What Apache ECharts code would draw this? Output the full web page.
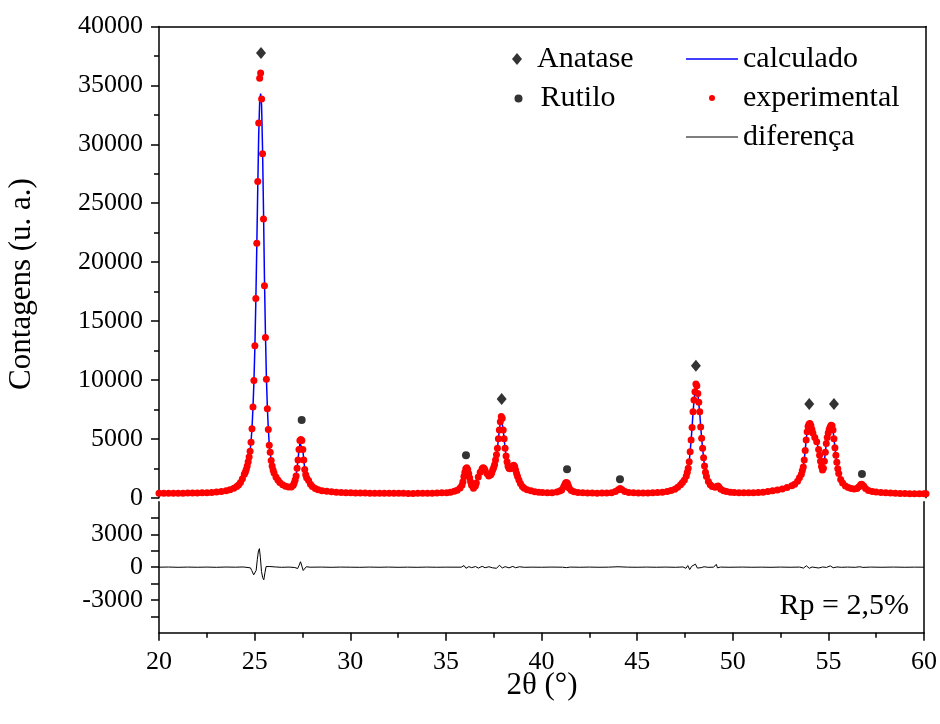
<!DOCTYPE html>
<html>
<head>
<meta charset="utf-8">
<script src="https://cdn.jsdelivr.net/npm/echarts@6/dist/echarts.min.js"></script>
<style>
html,body{margin:0;padding:0;background:#fff;}
#chart{width:940px;height:724px;}
</style>
</head>
<body>
<div id="chart"></div>
<script>
// ---------- DATA ----------
const xTicks = [20, 25, 30, 35, 40, 45, 50, 55, 60];
const yTopTicks = [0, 5000, 10000, 15000, 20000, 25000, 30000, 35000, 40000];
const yDiffLabels = [-3000, 0, 3000];
const yDiffTicks = [-4500, -3000, -1500, 0, 1500, 3000, 4500];

// [2θ, contagens] experimental points
const experimental = [
[20.0,370],[20.25,375],[20.5,372],[20.75,378],[21.0,380],[21.25,385],[21.5,390],[21.75,398],[22.0,405],[22.25,415],
[22.5,430],[22.75,450],[23.0,480],[23.25,520],[23.5,590],[23.7,680],[23.9,800],[24.05,950],[24.15,1080],[24.25,1300],
[24.35,1600],[24.45,2000],[24.5,2150],[24.55,2400],[24.6,2700],[24.65,3050],[24.7,3450],[24.75,3950],[24.8,4700],[24.85,5850],
[24.9,7700],[24.95,9950],[25.0,12900],[25.05,16900],[25.1,21600],[25.15,26850],[25.2,31800],[25.25,35600],[25.3,36050],[25.35,33850],
[25.4,29200],[25.45,23650],[25.5,18000],[25.55,13600],[25.6,10050],[25.65,7550],[25.7,5800],[25.75,4450],[25.8,3850],[25.85,3150],
[25.9,2700],[25.95,2350],[26.0,2100],[26.1,1750],[26.2,1500],[26.3,1280],[26.45,1100],[26.6,980],[26.75,900],[26.9,900],
[27.0,1050],[27.05,1250],[27.1,1500],[27.15,1850],[27.2,2500],[27.25,3200],[27.3,4100],[27.35,4850],[27.4,4950],[27.45,4850],
[27.5,4100],[27.55,3200],[27.6,2400],[27.65,1950],[27.7,1700],[27.8,1450],[27.9,1150],[28.0,950],[28.15,780],[28.3,680],
[28.5,600],[28.75,540],[29.0,500],[29.25,470],[29.5,450],[29.75,430],[30.0,415],[30.25,405],[30.5,398],[30.75,392],
[31.0,388],[31.25,384],[31.5,380],[31.75,377],[32.0,375],[32.25,372],[32.5,370],[32.75,368],[33.0,366],[33.25,366],
[33.5,368],[33.75,372],[34.0,378],[34.25,385],[34.5,395],[34.75,410],[35.0,430],[35.2,470],[35.4,540],[35.55,640],
[35.7,820],[35.8,1050],[35.85,1350],[35.9,1800],[35.95,2150],[36.0,2450],[36.05,2550],[36.1,2400],[36.15,2050],[36.2,1700],
[36.25,1350],[36.3,1050],[36.4,800],[36.5,1000],[36.55,1250],[36.65,1750],[36.75,2150],[36.85,2450],[36.9,2550],[36.95,2500],
[37.0,2350],[37.1,2050],[37.2,1850],[37.3,1950],[37.35,2100],[37.4,2350],[37.45,2550],[37.5,2800],[37.55,3200],[37.6,3650],
[37.65,4200],[37.7,5000],[37.75,5750],[37.8,6450],[37.85,6900],[37.9,6750],[37.95,5750],[38.0,5000],[38.05,4200],[38.1,3550],
[38.15,3050],[38.2,2700],[38.25,2500],[38.3,2450],[38.35,2500],[38.4,2600],[38.45,2700],[38.5,2750],[38.55,2650],[38.6,2350],
[38.65,2050],[38.7,1800],[38.77,1500],[38.85,1200],[38.95,950],[39.05,800],[39.2,680],[39.4,580],[39.6,510],[39.8,470],
[40.0,440],[40.25,420],[40.5,430],[40.75,480],[40.9,560],[41.0,660],[41.1,900],[41.15,1080],[41.2,1250],[41.25,1300],
[41.3,1220],[41.35,1000],[41.4,800],[41.5,620],[41.65,500],[41.85,440],[42.1,410],[42.35,395],[42.6,390],[42.85,385],
[43.1,390],[43.35,400],[43.6,430],[43.8,520],[43.95,680],[44.05,780],[44.15,680],[44.3,520],[44.5,440],[44.75,410],
[45.0,400],[45.25,400],[45.5,405],[45.75,420],[46.0,440],[46.25,470],[46.5,530],[46.7,610],[46.9,720],[47.05,880],
[47.2,1100],[47.3,1300],[47.4,1500],[47.5,1850],[47.55,2150],[47.6,2500],[47.65,3050],[47.7,3900],[47.75,4900],[47.8,5950],
[47.85,7300],[47.9,8300],[47.95,9000],[48.0,9650],[48.05,9500],[48.1,8850],[48.15,8100],[48.2,7300],[48.25,6000],[48.3,5050],
[48.35,4200],[48.4,3400],[48.45,2700],[48.5,2150],[48.55,1800],[48.65,1380],[48.75,1100],[48.85,950],[49.0,880],[49.1,960],
[49.15,1000],[49.2,900],[49.3,720],[49.45,600],[49.6,520],[49.8,470],[50.0,440],[50.25,420],[50.5,410],[50.75,410],
[51.0,420],[51.25,440],[51.5,470],[51.75,520],[52.0,580],[52.25,650],[52.5,740],[52.75,860],[53.0,1020],[53.15,1150],
[53.3,1400],[53.4,1700],[53.5,2000],[53.55,2300],[53.6,2600],[53.65,3200],[53.7,4000],[53.75,4900],[53.8,5600],[53.85,6050],
[53.9,6250],[53.95,6300],[54.0,6100],[54.05,5800],[54.1,5500],[54.2,5100],[54.3,4750],[54.4,4100],[54.45,3600],[54.5,3100],
[54.55,2650],[54.6,2350],[54.65,2500],[54.7,3100],[54.75,3850],[54.8,4600],[54.85,5100],[54.9,5500],[54.95,5800],[55.0,6000],
[55.05,6150],[55.1,6100],[55.15,5750],[55.2,5000],[55.25,4250],[55.3,3600],[55.35,3000],[55.4,2450],[55.45,2050],[55.55,1550],
[55.65,1250],[55.8,1000],[55.95,860],[56.1,780],[56.25,730],[56.4,780],[56.5,920],[56.6,1120],[56.65,1150],[56.75,1000],
[56.85,780],[57.0,620],[57.2,530],[57.4,480],[57.65,440],[57.9,410],[58.15,390],[58.4,375],[58.65,360],[58.9,350],
[59.15,340],[59.4,335],[59.65,330],[59.9,325],[60.0,325]
];

// [2θ, contagens] calculated (Rietveld) profile
const calculated = [
[20,370],[21,380],[22,405],[22.5,430],[23,480],[23.5,590],[23.9,800],[24.15,1080],[24.35,1600],[24.5,2150],
[24.6,2700],[24.7,3450],[24.75,3950],[24.8,4750],[24.85,5900],[24.9,7600],[24.95,9800],[25.0,12800],[25.05,16700],[25.1,21300],
[25.15,26300],[25.2,30800],[25.25,33600],[25.3,34300],[25.35,33300],[25.4,29600],[25.45,24400],[25.5,18600],[25.55,14000],[25.6,10300],
[25.65,7700],[25.7,5900],[25.75,4500],[25.8,3850],[25.85,3150],[25.9,2700],[26.0,2100],[26.2,1500],[26.45,1100],[26.75,900],
[26.9,900],[27.0,1050],[27.1,1500],[27.15,1850],[27.2,2500],[27.25,3250],[27.3,4050],[27.35,4650],[27.4,4800],[27.45,4700],
[27.5,4050],[27.55,3250],[27.6,2450],[27.7,1700],[27.8,1450],[28.0,950],[28.5,600],[29,500],[30,415],[32,375],
[34,378],[35,430],[35.4,540],[35.7,820],[35.8,1050],[35.9,1750],[36.0,2400],[36.05,2500],[36.1,2400],[36.2,1700],
[36.3,1050],[36.4,820],[36.5,1000],[36.65,1750],[36.75,2150],[36.9,2500],[37.0,2350],[37.2,1850],[37.3,1950],[37.4,2350],
[37.5,2800],[37.55,3200],[37.6,3650],[37.65,4200],[37.7,5000],[37.75,5750],[37.8,6350],[37.85,6700],[37.9,6600],[37.95,5800],
[38.0,5000],[38.05,4200],[38.1,3550],[38.15,3050],[38.2,2700],[38.3,2450],[38.5,2700],[38.6,2350],[38.7,1800],[38.85,1200],
[39.05,800],[39.4,580],[40,440],[40.75,480],[41.0,660],[41.1,900],[41.2,1200],[41.25,1250],[41.3,1200],[41.4,800],
[41.65,500],[42.5,390],[43.6,430],[43.95,680],[44.05,760],[44.15,680],[44.5,440],[45.5,405],[46.5,530],[46.9,720],
[47.2,1100],[47.4,1500],[47.5,1850],[47.6,2500],[47.65,3050],[47.7,3900],[47.75,4850],[47.8,5950],[47.85,7200],[47.9,8200],
[47.95,9000],[48.0,9500],[48.05,9400],[48.1,8800],[48.15,8000],[48.2,7200],[48.25,6050],[48.3,5050],[48.35,4200],[48.4,3400],
[48.45,2700],[48.5,2150],[48.55,1800],[48.65,1380],[48.85,950],[49.0,880],[49.15,980],[49.3,720],[49.6,520],[50,440],
[51,420],[52,580],[52.5,740],[53,1020],[53.3,1400],[53.5,2000],[53.6,2600],[53.65,3200],[53.7,4000],[53.75,4900],
[53.8,5600],[53.85,6000],[53.9,6200],[53.95,6250],[54.0,6100],[54.1,5500],[54.2,5100],[54.3,4750],[54.4,4100],[54.5,3100],
[54.6,2350],[54.65,2500],[54.7,3100],[54.75,3850],[54.8,4600],[54.9,5500],[55.0,6000],[55.05,6100],[55.1,6050],[55.15,5750],
[55.2,5000],[55.3,3600],[55.4,2450],[55.55,1550],[55.8,1000],[56.1,780],[56.25,730],[56.5,920],[56.65,1130],[56.85,780],
[57.2,530],[58,400],[59,345],[60,325]
];

// [2θ, diferença]
const difference = [
[20,0],[20.5,15],[21,-10],[21.5,10],[22,-5],[22.5,10],[23,-10],[23.5,15],[24,0],[24.4,20],
[24.6,-20],[24.7,120],[24.78,-60],[24.85,-300],[24.95,-700],[25.02,-850],[25.08,-300],[25.14,700],[25.2,1500],[25.25,1700],
[25.3,900],[25.36,-400],[25.42,-950],[25.48,-1150],[25.54,-500],[25.6,60],[25.7,150],[25.8,60],[25.9,-20],[26.1,20],
[26.4,-10],[26.8,10],[27.1,-30],[27.25,-120],[27.32,150],[27.4,500],[27.47,100],[27.54,-300],[27.6,-150],[27.7,40],
[27.9,0],[28.5,10],[29,-10],[29.5,10],[30,0],[30.5,-10],[31,10],[31.5,-5],[32,10],[32.5,-10],
[33,5],[33.5,-10],[34,10],[34.5,-5],[35,5],[35.8,0],[35.95,150],[36.05,-100],[36.2,50],[36.35,-40],
[36.55,60],[36.7,-80],[36.9,80],[37.05,-50],[37.25,40],[37.45,-60],[37.65,-100],[37.8,180],[37.95,-70],[38.1,50],
[38.3,-60],[38.5,70],[38.65,-50],[38.85,40],[39.1,-10],[39.5,5],[40,-5],[40.5,10],[41.1,0],[41.2,90],
[41.3,-40],[41.5,10],[42,-5],[42.5,10],[43,-5],[43.5,5],[44.0,40],[44.1,-20],[44.5,5],[45,-5],
[45.5,10],[46,-5],[46.5,10],[47,-10],[47.4,20],[47.55,-100],[47.65,150],[47.75,-220],[47.85,80],[47.95,-60],
[48.05,280],[48.15,-80],[48.25,-220],[48.35,-40],[48.5,40],[48.7,-10],[49.0,0],[49.08,-60],[49.14,260],[49.2,-60],
[49.35,10],[49.8,-5],[50.5,10],[51,-5],[51.5,5],[52,-10],[52.5,10],[53,-5],[53.5,10],[53.7,-80],
[53.85,130],[54.0,-100],[54.15,20],[54.35,-40],[54.5,-70],[54.7,20],[54.9,-20],[55.1,120],[55.25,-50],[55.45,20],
[55.7,-10],[56.0,10],[56.4,-10],[56.65,40],[56.8,-20],[57.2,10],[57.8,-5],[58.4,10],[59,-5],[59.5,5],[60,0]
];

// reflection markers [2θ, position]
const anatasePeaks = [[25.32,37750],[37.87,8380],[48.0,11200],[53.91,7950],[55.2,7950]];
const rutilePeaks = [[27.44,6600],[36.01,3600],[41.28,2410],[44.04,1560],[56.66,2010]];

// ---------- CHART ----------
const FONT = '"Liberation Serif", "Times New Roman", serif';
const chart = echarts.init(document.getElementById('chart'), null, {renderer: 'canvas'});

const GL = 159, GR = 940 - 926;
const topGrid = {left: GL, right: GR, top: 26.5, height: 471.2};
const botGrid = {left: GL, right: GR, top: 501.7, height: 131};

const lineStyle = {color: '#000', width: 1.5};
const plain = v => String(v);

const option = {
  animation: false,
  backgroundColor: '#fff',
  textStyle: {fontFamily: FONT, color: '#000'},
  grid: [topGrid, botGrid],
  xAxis: [
    {gridIndex: 0, type: 'value', min: 20, max: 60, position: 'top',
     axisLine: {show: true, onZero: false, lineStyle: lineStyle},
     axisTick: {show: false}, axisLabel: {show: false}, splitLine: {show: false}},
    {gridIndex: 1, type: 'value', min: 20, max: 60, interval: 5, position: 'bottom',
     axisLine: {show: true, onZero: false, lineStyle: lineStyle},
     axisTick: {show: true, inside: false, length: 8, lineStyle: lineStyle},
     minorTick: {show: true, splitNumber: 2, length: 5, lineStyle: lineStyle},
     axisLabel: {show: true, fontSize: 26, fontFamily: FONT, color: '#000', margin: 16, formatter: plain},
     splitLine: {show: false}}
  ],
  yAxis: [
    {gridIndex: 0, type: 'value', min: 0, max: 40000, interval: 5000, position: 'left',
     axisLine: {show: true, onZero: false, lineStyle: lineStyle},
     axisTick: {show: true, inside: false, length: 8, lineStyle: lineStyle},
     minorTick: {show: true, splitNumber: 2, length: 5, lineStyle: lineStyle},
     axisLabel: {show: true, fontSize: 26, fontFamily: FONT, color: '#000', margin: 16, formatter: plain},
     splitLine: {show: false}},
    {gridIndex: 0, type: 'value', min: 0, max: 40000, position: 'right',
     axisLine: {show: true, onZero: false, lineStyle: lineStyle},
     axisTick: {show: false}, axisLabel: {show: false}, splitLine: {show: false}},
    {gridIndex: 1, type: 'value', min: -6000, max: 6000, position: 'left',
     axisLine: {show: true, onZero: false, lineStyle: lineStyle},
     axisTick: {show: true, inside: false, length: 8, lineStyle: lineStyle, customValues: yDiffTicks},
     axisLabel: {show: true, fontSize: 26, fontFamily: FONT, color: '#000', margin: 16, customValues: yDiffLabels, formatter: plain},
     splitLine: {show: false}},
    {gridIndex: 1, type: 'value', min: -6000, max: 6000, position: 'right',
     axisLine: {show: true, onZero: false, lineStyle: lineStyle},
     axisTick: {show: false}, axisLabel: {show: false}, splitLine: {show: false}}
  ],
  legend: [
    {left: 507, top: 38, orient: 'vertical', itemWidth: 30, itemHeight: 12, selectedMode: false,
     textStyle: {fontFamily: FONT, fontSize: 30, lineHeight: 32, color: '#000'},
     data: [{name: 'Anatase', icon: 'path://M5,0 L10,6 L5,12 L0,6 Z'}]},
    {left: 509.5, top: 77.6, orient: 'vertical', itemWidth: 34, itemHeight: 8, selectedMode: false,
     textStyle: {fontFamily: FONT, fontSize: 30, lineHeight: 32, color: '#000'},
     data: [{name: 'Rutilo', icon: 'circle'}]},
    {left: 681, top: 38, orient: 'vertical', itemWidth: 52, itemHeight: 6, itemGap: 7, selectedMode: false,
     textStyle: {fontFamily: FONT, fontSize: 30, lineHeight: 32, color: '#000'},
     data: [
       {name: 'calculado', icon: 'path://M0,0 H52 V1.5 H0 Z'},
       {name: 'experimental', icon: 'circle'},
       {name: 'diferença', icon: 'path://M0,0 H52 V1.2 H0 Z'}
     ]}
  ],
  graphic: [
    {type: 'text', x: 22, y: 284, rotation: Math.PI / 2,
     style: {text: 'Contagens (u. a.)', font: '31px ' + FONT, fill: '#000', textAlign: 'center', textVerticalAlign: 'middle'}},
    {type: 'text', x: 542, y: 686,
     style: {text: '2θ (°)', font: '31px ' + FONT, fill: '#000', textAlign: 'center', textVerticalAlign: 'middle'}},
    {type: 'text', x: 909, y: 606,
     style: {text: 'Rp = 2,5%', font: '30px ' + FONT, fill: '#000', textAlign: 'right', textVerticalAlign: 'middle'}}
  ],
  series: [
    {name: 'calculado', type: 'line', xAxisIndex: 0, yAxisIndex: 0, data: calculated,
     showSymbol: false, symbol: 'none', silent: true, z: 2,
     lineStyle: {color: '#0000ff', width: 1.5}, itemStyle: {color: '#0000ff'}},
    {name: 'experimental', type: 'scatter', xAxisIndex: 0, yAxisIndex: 0, data: experimental,
     symbol: 'circle', symbolSize: 7, silent: true, z: 3,
     itemStyle: {color: '#ff0000', opacity: 1}},
    {name: 'diferença', type: 'line', xAxisIndex: 1, yAxisIndex: 2, data: difference,
     showSymbol: false, symbol: 'none', silent: true, z: 2,
     lineStyle: {color: '#000', width: 1}, itemStyle: {color: '#000'}},
    {name: 'Anatase', type: 'scatter', xAxisIndex: 0, yAxisIndex: 0, data: anatasePeaks,
     symbol: 'path://M5,0 L10,6 L5,12 L0,6 Z', symbolSize: [10, 12], silent: true, z: 4,
     itemStyle: {color: '#000'}},
    {name: 'Rutilo', type: 'scatter', xAxisIndex: 0, yAxisIndex: 0, data: rutilePeaks,
     symbol: 'circle', symbolSize: 8, silent: true, z: 4,
     itemStyle: {color: '#000'}}
  ]
};
chart.setOption(option);
</script>
</body>
</html>
